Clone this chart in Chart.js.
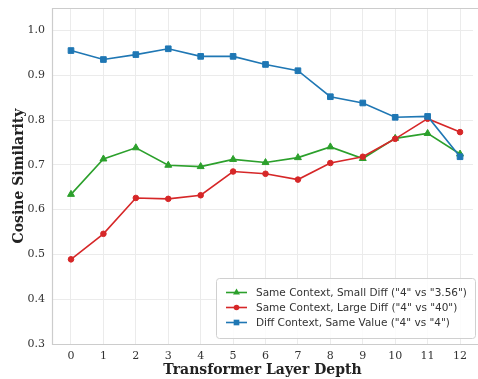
<!DOCTYPE html>
<html>
<head>
<meta charset="utf-8">
<script src="https://cdn.jsdelivr.net/npm/chart.js@4/dist/chart.umd.min.js"></script>
<style>
  html, body { margin: 0; padding: 0; background: #fff; }
  #wrap { width: 478px; height: 379px; }
</style>
</head>
<body>
<div id="wrap"><canvas id="simChart" width="478" height="379"></canvas></div>
<script>
"use strict";

// Layer indices and cosine similarity per series
const layers = [0, 1, 2, 3, 4, 5, 6, 7, 8, 9, 10, 11, 12];
const smallDiff = [0.634, 0.713, 0.738, 0.699, 0.696, 0.712, 0.705, 0.716, 0.740, 0.714, 0.759, 0.770, 0.724];
const largeDiff = [0.489, 0.546, 0.626, 0.624, 0.632, 0.685, 0.680, 0.667, 0.704, 0.718, 0.758, 0.803, 0.773];
const sameValue = [0.955, 0.935, 0.946, 0.959, 0.942, 0.942, 0.924, 0.910, 0.852, 0.838, 0.806, 0.808, 0.718];
const yTicks = [0.3, 0.4, 0.5, 0.6, 0.7, 0.8, 0.9, 1.0];

const seriesNames = [
    'Same Context, Small Diff ("4" vs "3.56")',
    'Same Context, Large Diff ("4" vs "40")',
    'Diff Context, Same Value ("4" vs "4")'
];

const toPoints = vals => vals.map((v, i) => ({ x: layers[i], y: v }));

function makeSeries(label, vals, color, style, radius, order) {
    return {
        label: label,
        data: toPoints(vals),
        borderColor: color,
        backgroundColor: color,
        borderWidth: 1.6,
        pointStyle: style,
        pointRadius: radius,
        pointBorderWidth: 1,
        pointBorderColor: color,
        pointBackgroundColor: color,
        tension: 0,
        order: order
    };
}

// Spines on top, left and bottom of the plot area (right one is cropped off)
const framePlugin = {
    id: "frame",
    afterDraw(chart) {
        const a = chart.chartArea;
        const c = chart.ctx;
        const w = chart.width;
        c.save();
        c.strokeStyle = "#cccccc";
        c.lineWidth = 1.2;
        c.beginPath();
        c.moveTo(w, a.top + 0.5);
        c.lineTo(a.left + 0.5, a.top + 0.5);
        c.lineTo(a.left + 0.5, a.bottom + 0.5);
        c.lineTo(w, a.bottom + 0.5);
        c.stroke();
        c.restore();
    }
};

// Legend box drawn in the lower right of the plot area
const legendPlugin = {
    id: "boxLegend",
    afterDraw(chart) {
        const c = chart.ctx;
        const x0 = 216, y0 = 278, w = 259, h = 60;
        c.save();
        c.fillStyle = "rgba(255,255,255,0.85)";
        c.strokeStyle = "#d0d0d0";
        c.lineWidth = 1;
        c.beginPath();
        c.roundRect(x0 + 0.5, y0 + 0.5, w, h, 3);
        c.fill();
        c.stroke();
        c.font = '10.5px "DejaVu Sans"';
        c.textBaseline = "middle";
        chart.data.datasets.forEach((ds, i) => {
            const y = y0 + 14.5 + i * 15;
            c.strokeStyle = ds.borderColor;
            c.lineWidth = 1.6;
            c.beginPath();
            c.moveTo(226, y);
            c.lineTo(247, y);
            c.stroke();
            c.fillStyle = ds.borderColor;
            Chart.helpers.drawPoint(c, {
                pointStyle: ds.pointStyle,
                radius: ds.pointRadius,
                rotation: 0,
                borderWidth: 0
            }, 236.5, y);
            c.fillStyle = "#333333";
            c.fillText(ds.label, 256, y + 0.5);
        });
        c.restore();
    }
};

const ctx = document.getElementById("simChart").getContext("2d");
const simChart = new Chart(ctx, {
    type: "line",
    data: {
        datasets: [
            makeSeries(seriesNames[0], smallDiff, "#2ca02c", "triangle", 4, 2),
            makeSeries(seriesNames[1], largeDiff, "#d62728", "circle", 2.8, 1),
            makeSeries(seriesNames[2], sameValue, "#1f77b4", "rect", 4, 0)
        ]
    },
    options: {
        responsive: false,
        animation: false,
        layout: { padding: { left: 11, right: 0, top: 8, bottom: 0 } },
        plugins: {
            legend: { display: false },
            tooltip: { enabled: false }
        },
        scales: {
            x: {
                type: "linear",
                min: -0.586,
                max: 12.40,
                afterBuildTicks: axis => { axis.ticks = layers.map(v => ({ value: v })); },
                afterFit: axis => {
                    axis.height = 35;
                    axis.paddingLeft = 0;
                    axis.paddingRight = 0;
                },
                grid: { color: "#ebebeb", lineWidth: 1, drawTicks: false },
                border: { display: false },
                ticks: {
                    padding: 6,
                    color: "#333333",
                    font: { family: "DejaVu Serif", size: 11 },
                    maxRotation: 0,
                    callback: v => String(v)
                },
                title: {
                    display: true,
                    text: "Transformer Layer Depth",
                    color: "#222222",
                    font: { family: "DejaVu Serif", size: 14, weight: "bold" },
                    padding: { top: 1, bottom: 0 }
                }
            },
            y: {
                min: 0.3,
                max: 1.05,
                afterBuildTicks: axis => { axis.ticks = yTicks.map(v => ({ value: v })); },
                afterFit: axis => {
                    axis.width = 41;
                    axis.paddingTop = 0;
                    axis.paddingBottom = 0;
                },
                grid: { color: "#ebebeb", lineWidth: 1, drawTicks: false },
                border: { display: false },
                ticks: {
                    padding: 7,
                    color: "#333333",
                    font: { family: "DejaVu Serif", size: 11 },
                    callback: v => v.toFixed(1)
                },
                title: {
                    display: true,
                    text: "Cosine Similarity",
                    color: "#222222",
                    font: { family: "DejaVu Serif", size: 14, weight: "bold" },
                    padding: { top: 0, bottom: 4 }
                }
            }
        }
    },
    plugins: [framePlugin, legendPlugin]
});
</script>
</body>
</html>
